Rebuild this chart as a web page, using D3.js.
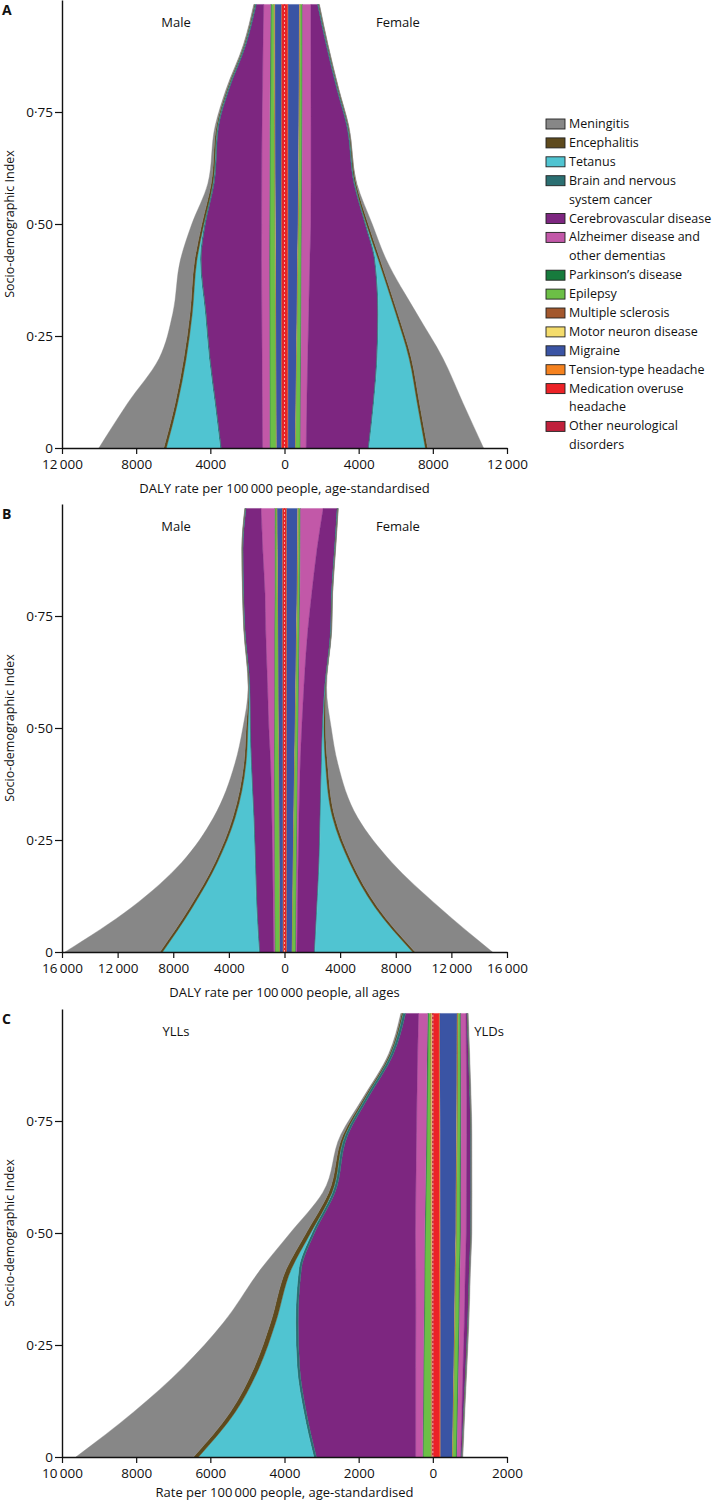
<!DOCTYPE html>
<html>
<head>
<meta charset="utf-8">
<script src="https://cdn.jsdelivr.net/npm/d3@7"></script>
<style>
  body { margin: 0; background: #fff; }
  text { font-family: "Open Sans", sans-serif; fill: #111; }
</style>
</head>
<body>
<div id="chart"></div>
<script>
const sdiLevels = [0, 0.1, 0.2, 0.3, 0.42, 0.5, 0.59, 0.72, 0.8, 0.9, 0.99];

const causes = [
  "Meningitis", "Encephalitis", "Tetanus", "Brain and nervous system cancer",
  "Cerebrovascular disease", "Alzheimer disease and other dementias",
  "Parkinson's disease", "Epilepsy", "Multiple sclerosis", "Motor neuron disease",
  "Migraine", "Tension-type headache", "Medication overuse headache",
  "Other neurological disorders"
];
const causeColors = [
  "#878787", "#5e4a1d", "#50c4d1", "#2b6f72", "#7d2680", "#c258a8", "#177b3d",
  "#6cbf46", "#a3582d", "#f4dc6c", "#3a54a4", "#f5821f", "#ec2227", "#c0203b"
];
const legendLines = [
  ["Meningitis"], ["Encephalitis"], ["Tetanus"], ["Brain and nervous", "system cancer"],
  ["Cerebrovascular disease"], ["Alzheimer disease and", "other dementias"],
  ["Parkinson\u2019s disease"], ["Epilepsy"], ["Multiple sclerosis"], ["Motor neuron disease"],
  ["Migraine"], ["Tension-type headache"], ["Medication overuse", "headache"],
  ["Other neurological", "disorders"]
];

// rows follow `causes`, columns follow `sdiLevels`
const aMale = [
  [3500, 2565, 1330, 930, 770, 540, 180, 70, 50, 40, 40],
  [140, 130, 130, 120, 120, 110, 90, 50, 40, 30, 30],
  [2900, 2000, 1230, 690, 170, 20, 10, 10, 10, 10, 10],
  [60, 60, 60, 60, 60, 60, 60, 60, 60, 60, 60],
  [2225, 2510, 2800, 3000, 3250, 3030, 2565, 2330, 1810, 920, 400],
  [380, 390, 400, 410, 420, 420, 420, 410, 400, 390, 370],
  [30, 30, 35, 35, 40, 40, 40, 40, 40, 40, 40],
  [300, 290, 280, 270, 260, 240, 220, 200, 170, 150, 130],
  [10, 10, 12, 15, 15, 18, 20, 22, 25, 25, 25],
  [15, 15, 15, 15, 18, 20, 20, 22, 25, 25, 25],
  [270, 280, 290, 300, 310, 320, 330, 340, 345, 350, 350],
  [20, 20, 20, 20, 20, 20, 20, 20, 20, 20, 20],
  [140, 140, 140, 140, 140, 140, 140, 140, 140, 140, 140],
  [20, 20, 20, 20, 20, 20, 20, 20, 20, 20, 20]
];
const aFemale = [
  [3015, 2350, 1705, 1020, 330, 215, 36, 20, 20, 20, 20],
  [125, 120, 120, 110, 100, 100, 60, 30, 30, 25, 25],
  [3035, 2335, 1710, 935, 165, 20, 10, 10, 10, 10, 10],
  [50, 50, 50, 50, 50, 50, 50, 50, 50, 50, 50],
  [3340, 3570, 3710, 3710, 3480, 2925, 2315, 1920, 1400, 825, 360],
  [305, 330, 360, 400, 450, 485, 485, 470, 460, 450, 450],
  [20, 20, 20, 20, 20, 22, 22, 25, 25, 25, 25],
  [230, 215, 200, 180, 160, 140, 130, 120, 110, 100, 90],
  [10, 10, 12, 15, 15, 18, 20, 22, 25, 25, 25],
  [10, 10, 10, 12, 12, 15, 15, 15, 18, 20, 20],
  [395, 420, 450, 480, 510, 540, 560, 580, 590, 600, 610],
  [20, 20, 20, 20, 20, 20, 20, 20, 20, 20, 20],
  [160, 160, 160, 160, 160, 160, 160, 160, 160, 160, 160],
  [20, 20, 20, 20, 20, 20, 20, 20, 20, 20, 20]
];
const bMale = [
  [6825, 4170, 2395, 1390, 650, 240, 30, 20, 20, 20, 20],
  [190, 190, 170, 170, 145, 120, 30, 20, 20, 20, 20],
  [6930, 4590, 2695, 1305, 350, 130, 20, 10, 10, 10, 10],
  [60, 60, 60, 60, 60, 60, 50, 40, 40, 40, 40],
  [1005, 1150, 1220, 1270, 1365, 1320, 1270, 1485, 1530, 1410, 1080],
  [72, 96, 120, 170, 240, 380, 480, 620, 695, 860, 980],
  [10, 10, 10, 10, 15, 20, 20, 25, 25, 25, 25],
  [310, 315, 310, 300, 290, 240, 215, 190, 140, 120, 95],
  [10, 10, 10, 12, 12, 15, 15, 15, 18, 20, 20],
  [10, 10, 10, 10, 12, 15, 15, 15, 15, 15, 15],
  [240, 250, 260, 275, 290, 310, 320, 330, 345, 360, 380],
  [20, 20, 20, 20, 20, 20, 20, 20, 20, 20, 20],
  [80, 85, 90, 95, 100, 105, 110, 120, 125, 130, 130],
  [20, 20, 20, 20, 20, 20, 20, 20, 20, 20, 20]
];
const bFemale = [
  [5555, 4430, 2875, 1630, 740, 405, 50, 20, 20, 20, 20],
  [190, 190, 170, 170, 145, 120, 30, 20, 20, 20, 20],
  [7015, 4140, 2155, 860, 260, 70, 20, 10, 10, 10, 10],
  [50, 50, 50, 50, 50, 50, 45, 40, 40, 40, 40],
  [1245, 1380, 1485, 1510, 1510, 1475, 1485, 1630, 1415, 1250, 1000],
  [72, 80, 100, 120, 170, 240, 360, 600, 840, 1200, 1630],
  [20, 20, 20, 20, 20, 25, 25, 30, 30, 30, 30],
  [230, 220, 210, 200, 180, 170, 160, 140, 130, 120, 110],
  [10, 10, 12, 15, 18, 20, 22, 25, 28, 30, 30],
  [10, 10, 10, 12, 12, 15, 15, 18, 20, 20, 20],
  [385, 420, 460, 500, 560, 600, 640, 700, 740, 770, 790],
  [20, 20, 20, 20, 20, 20, 20, 20, 20, 20, 20],
  [130, 130, 130, 130, 130, 130, 130, 130, 130, 130, 130],
  [20, 20, 20, 20, 20, 20, 20, 20, 20, 20, 20]
];
const cYll = [
  [3170, 2610, 1920, 1270, 685, 430, 160, 63, 30, 25, 25],
  [135, 135, 135, 135, 135, 120, 90, 54, 36, 30, 30],
  [3110, 1850, 1020, 540, 200, 36, 10, 5, 5, 5, 5],
  [70, 70, 70, 70, 70, 70, 70, 70, 70, 70, 70],
  [2675, 2945, 3125, 3170, 3080, 2720, 2180, 1845, 1325, 650, 350],
  [190, 200, 210, 220, 235, 250, 260, 265, 260, 255, 245],
  [15, 15, 15, 15, 15, 20, 20, 20, 25, 25, 25],
  [200, 190, 180, 165, 150, 135, 115, 90, 75, 60, 45],
  [15, 15, 15, 15, 15, 15, 15, 15, 15, 15, 15],
  [15, 15, 15, 15, 18, 20, 20, 22, 25, 25, 25],
  [0, 0, 0, 0, 0, 0, 0, 0, 0, 0, 0],
  [0, 0, 0, 0, 0, 0, 0, 0, 0, 0, 0],
  [0, 0, 0, 0, 0, 0, 0, 0, 0, 0, 0],
  [30, 30, 30, 30, 30, 30, 30, 30, 30, 30, 30]
];
const cYld = [
  [20, 20, 20, 20, 20, 20, 20, 20, 20, 20, 20],
  [5, 5, 5, 5, 5, 5, 5, 5, 5, 5, 5],
  [0, 0, 0, 0, 0, 0, 0, 0, 0, 0, 0],
  [5, 5, 5, 5, 5, 5, 5, 5, 5, 5, 5],
  [30, 50, 75, 95, 110, 120, 120, 110, 90, 60, 30],
  [100, 110, 120, 130, 140, 145, 150, 150, 150, 145, 140],
  [20, 20, 20, 20, 22, 22, 22, 20, 18, 16, 15],
  [85, 88, 90, 92, 92, 90, 85, 75, 70, 62, 55],
  [10, 10, 10, 12, 12, 15, 15, 18, 20, 20, 20],
  [5, 5, 5, 5, 5, 5, 5, 5, 5, 5, 5],
  [320, 340, 360, 380, 400, 420, 430, 445, 455, 465, 470],
  [20, 20, 20, 20, 20, 20, 20, 20, 20, 20, 20],
  [170, 170, 170, 170, 165, 165, 160, 160, 155, 150, 150],
  [20, 20, 20, 20, 20, 20, 20, 20, 20, 20, 20]
];

const yTicks = [0, 0.25, 0.5, 0.75];
const yTickLabels = ["0", "0\u00b725", "0\u00b750", "0\u00b775"];
const aTicks = [-12000, -8000, -4000, 0, 4000, 8000, 12000];
const aTickLabels = ["12\u2009000", "8000", "4000", "0", "4000", "8000", "12\u2009000"];
const bTicks = [-16000, -12000, -8000, -4000, 0, 4000, 8000, 12000, 16000];
const bTickLabels = ["16\u2009000", "12\u2009000", "8000", "4000", "0", "4000", "8000", "12\u2009000", "16\u2009000"];
const cTicks = [-10000, -8000, -6000, -4000, -2000, 0, 2000];
const cTickLabels = ["10\u2009000", "8000", "6000", "4000", "2000", "0", "2000"];

const width = 714, height = 1502;
const plotLeft = 62, plotRight = 507, plotH = 448;

const panels = [
  { letter: "A", top: 0, domain: [-12000, 12000], ticks: aTicks, labels: aTickLabels,
    left: aMale, right: aFemale, sides: ["Male", "Female"], sideX: [176, 398], titleDy: 45,
    title: "DALY rate per 100\u2009000 people, age-standardised" },
  { letter: "B", top: 504, domain: [-16000, 16000], ticks: bTicks, labels: bTickLabels,
    left: bMale, right: bFemale, sides: ["Male", "Female"], sideX: [176, 398], titleDy: 45,
    title: "DALY rate per 100\u2009000 people, all ages" },
  { letter: "C", top: 1009, domain: [-10000, 2000], ticks: cTicks, labels: cTickLabels,
    left: cYll, right: cYld, sides: ["YLLs", "YLDs"], sideX: [176, 489], titleDy: 40,
    title: "Rate per 100\u2009000 people, age-standardised" }
];

const svg = d3.select("#chart").append("svg")
  .attr("width", width).attr("height", height);

// stack innermost cause first so the first legend entry ends up outermost
const stackKeys = causes.slice().reverse();
const stack = d3.stack().keys(stackKeys);

function toRows(table) {
  return sdiLevels.map((s, i) => {
    const r = { sdi: s };
    causes.forEach((c, k) => { r[c] = table[k][i]; });
    return r;
  });
}

panels.forEach(p => {
  const g = svg.append("g");
  const x = d3.scaleLinear().domain(p.domain).range([plotLeft, plotRight]);
  const y = d3.scaleLinear().domain([0, 1]).range([p.top + plotH, p.top]);

  [[p.left, -1], [p.right, 1]].forEach(([table, sign]) => {
    const series = stack(toRows(table));
    const area = d3.area()
      .y(d => y(d.data.sdi))
      .x0(d => x(sign * d[0]))
      .x1(d => x(sign * d[1]))
      .curve(d3.curveMonotoneY);
    g.append("g").selectAll("path")
      .data(series)
      .join("path")
      .attr("d", area)
      .attr("fill", d => causeColors[causes.indexOf(d.key)])
      .attr("stroke", d => causeColors[causes.indexOf(d.key)])
      .attr("stroke-width", 0.4);
  });

  // dashed centre line
  g.append("line")
    .attr("x1", x(0)).attr("x2", x(0))
    .attr("y1", y(0)).attr("y2", y(sdiLevels[sdiLevels.length - 1]))
    .attr("stroke", "#f6b4b4").attr("stroke-width", 0.9)
    .attr("stroke-dasharray", "2,2");

  const xAxis = g.append("g")
    .attr("transform", `translate(0,${p.top + plotH})`)
    .call(d3.axisBottom(x).tickValues(p.ticks).tickFormat((d, i) => p.labels[i])
      .tickSize(6).tickSizeOuter(0).tickPadding(5));
  const yAxis = g.append("g")
    .attr("transform", `translate(${plotLeft},0)`)
    .call(d3.axisLeft(y).tickValues(yTicks).tickFormat((d, i) => yTickLabels[i])
      .tickSize(7).tickSizeOuter(0).tickPadding(2));
  [xAxis, yAxis].forEach(a => {
    a.select(".domain").attr("stroke", "#111").attr("stroke-width", 1.4);
    a.selectAll(".tick line").attr("stroke", "#111").attr("stroke-width", 1.2);
    a.selectAll(".tick text").style("font-size", "13.5px").attr("fill", "#111");
  });

  g.append("text")
    .attr("x", 2).attr("y", p.top + 15)
    .style("font-size", "14px").style("font-weight", "bold")
    .text(p.letter);

  p.sides.forEach((s, i) => {
    g.append("text")
      .attr("x", p.sideX[i]).attr("y", p.top + 27)
      .attr("text-anchor", "middle")
      .style("font-size", "13px")
      .text(s);
  });

  g.append("text")
    .attr("x", (plotLeft + plotRight) / 2).attr("y", p.top + plotH + p.titleDy)
    .attr("text-anchor", "middle")
    .style("font-size", "13px")
    .text(p.title);

  g.append("text")
    .attr("transform", `translate(14,${p.top + plotH / 2}) rotate(-90)`)
    .attr("text-anchor", "middle")
    .style("font-size", "12.5px")
    .text("Socio-demographic Index");
});

// legend
const legend = svg.append("g").attr("transform", "translate(546,119)");
const lineH = 18.9;
let row = 0;
legendLines.forEach((lines, i) => {
  const item = legend.append("g").attr("transform", `translate(0,${row * lineH})`);
  item.append("rect")
    .attr("width", 19).attr("height", 10)
    .attr("fill", causeColors[i])
    .attr("stroke", "#222").attr("stroke-width", 0.9);
  lines.forEach((t, j) => {
    item.append("text")
      .attr("x", 23).attr("y", 9 + j * lineH)
      .style("font-size", "12.5px")
      .text(t);
  });
  row += lines.length;
});
</script>
</body>
</html>
